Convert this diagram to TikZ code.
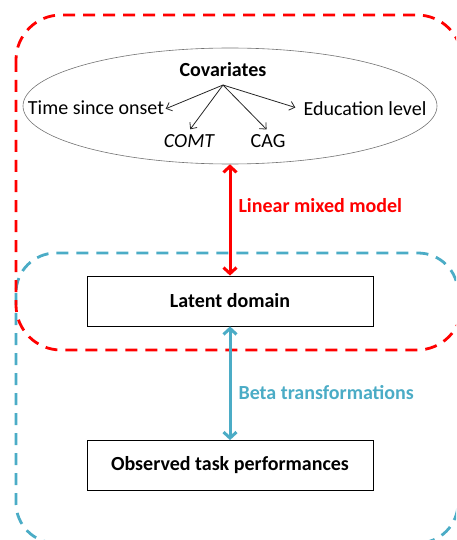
\documentclass[tikz,border=0pt]{standalone}
\usepackage{fontspec}
\setmainfont{Carlito}
\usetikzlibrary{shapes.geometric,arrows.meta}
\definecolor{dred}{RGB}{255,0,0}
\definecolor{aqua}{RGB}{75,172,198}
\begin{document}
\begin{tikzpicture}[x=1pt,y=-1pt,
  font=\fontsize{20}{24}\selectfont,
  dashbox/.style={line width=2.8pt, dash pattern=on 12pt off 8pt},
  mainbox/.style={draw=black, line width=0.8pt, minimum width=286pt, minimum height=50pt, font=\fontsize{20}{24}\selectfont\bfseries},
  subarrow/.style={draw=black!85, line width=0.8pt, -{Straight Barb[length=5pt,width=9pt]}},
  bigarrow/.style={line width=3pt, {Straight Barb[length=6pt,width=13pt]}-{Straight Barb[length=6pt,width=13pt]}},
  lbl/.style={anchor=west, font=\fontsize{20}{24}\selectfont\bfseries}]
\useasboundingbox (0,0) rectangle (456,540);
\clip (0,0) rectangle (456,540);
% dashed groups
\draw[aqua, dashbox, rounded corners=40pt] (16,253) rectangle (458,543);
\draw[dred, dashbox, rounded corners=45pt] (16,15) rectangle (462,350);
% ellipse of covariates
\node[ellipse, draw=black!55, line width=0.6pt, minimum width=414pt, minimum height=116pt, inner sep=0pt] (ell) at (230,106) {};
\node[font=\fontsize{20}{24}\selectfont\bfseries] (cov) at (223,70) {Covariates};
\coordinate (hub) at (223,85);
\node (time) at (96,108) {Time since onset};
\node (edu) at (365,109) {Education level};
\node (comt) at (189,141) {\itshape COMT};
\node (cag) at (268,141) {CAG};
\draw[subarrow, shorten >=-2pt] (hub) -- (time.east);
\draw[subarrow, shorten >=2pt] (hub) -- (comt.north);
\draw[subarrow, shorten >=2pt] (hub) -- (cag.north);
\draw[subarrow, shorten >=5pt] (hub) -- (edu.west);
% boxes
\node[mainbox] (latent) at (230,301) {Latent domain};
\node[mainbox] (obs) at (230,465.5) {Observed task performances};
% big arrows
\draw[dred, bigarrow] (ell.south) -- (latent.north);
\draw[aqua, bigarrow] (latent.south) -- (obs.north);
\node[lbl, text=dred] (lmm) at (235,206) {Linear mixed model};
\node[lbl, text=aqua] (beta) at (235,393) {Beta transformations};
\end{tikzpicture}
\end{document}
